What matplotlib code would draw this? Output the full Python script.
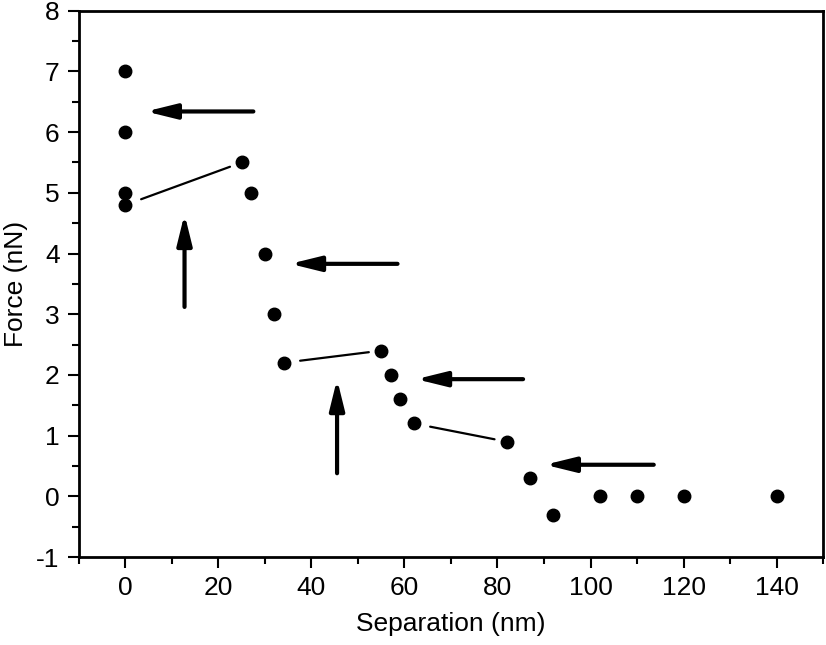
import numpy as np
import matplotlib.pyplot as plt
from matplotlib.ticker import MultipleLocator

plt.rcParams['font.family'] = ['Liberation Sans', 'DejaVu Sans']
plt.rcParams['font.size'] = 19
plt.rcParams['axes.unicode_minus'] = False

# data points
separation = [0, 0, 0, 0, 25, 27, 30, 32, 34, 55, 57, 59, 62, 82, 87, 92, 102, 110, 120, 140]
force = [7.0, 6.0, 5.0, 4.8, 5.5, 5.0, 4.0, 3.0, 2.2, 2.4, 2.0, 1.6, 1.2, 0.9, 0.3, -0.3, 0.0, 0.0, 0.0, 0.0]

# thin lines joining point pairs (indices into the arrays above)
links = [(3, 4), (8, 9), (12, 13)]

# thick arrows: (tail x, tail y, tip x, tip y)
arrows_h = [(27.5, 6.34, 4.4, 6.34), (58.5, 3.83, 35.4, 3.83),
            (85.5, 1.93, 62.5, 1.93), (113.6, 0.52, 90.2, 0.52)]
arrows_v = [(12.7, 3.12, 12.7, 4.65), (45.5, 0.38, 45.5, 1.93)]

fig = plt.figure(figsize=(8.26, 6.45), dpi=100)
ax = fig.add_axes([0.0956, 0.1364, 0.9008, 0.847])

ax.plot(separation, force, 'o', color='black', ms=9, zorder=3)

for i, j in links:
    ax.annotate('', xy=(separation[j], force[j]), xytext=(separation[i], force[i]),
                arrowprops=dict(arrowstyle='-', color='black', lw=1.6,
                                shrinkA=12, shrinkB=9))

for x0, y0, x1, y1 in arrows_h + arrows_v:
    ax.annotate('', xy=(x1, y1), xytext=(x0, y0),
                arrowprops=dict(arrowstyle='-|>,head_length=1.3,head_width=0.32',
                                color='black', lw=3, mutation_scale=14,
                                shrinkA=0, shrinkB=0))

ax.set_xlim(-10, 150)
ax.set_ylim(-1, 8)
ax.xaxis.set_major_locator(MultipleLocator(20))
ax.xaxis.set_minor_locator(MultipleLocator(10))
ax.yaxis.set_major_locator(MultipleLocator(1))
ax.yaxis.set_minor_locator(MultipleLocator(0.5))
ax.tick_params(which='major', direction='out', length=8, width=1.5, labelsize=19, pad=6)
ax.tick_params(which='minor', direction='out', length=5, width=1.5)
for s in ax.spines.values():
    s.set_linewidth(2)

ax.set_xlabel('Separation (nm)', fontsize=19, labelpad=8)
ax.set_ylabel('Force (nN)', fontsize=19, labelpad=6)

fig.savefig('out.png', dpi=100)
